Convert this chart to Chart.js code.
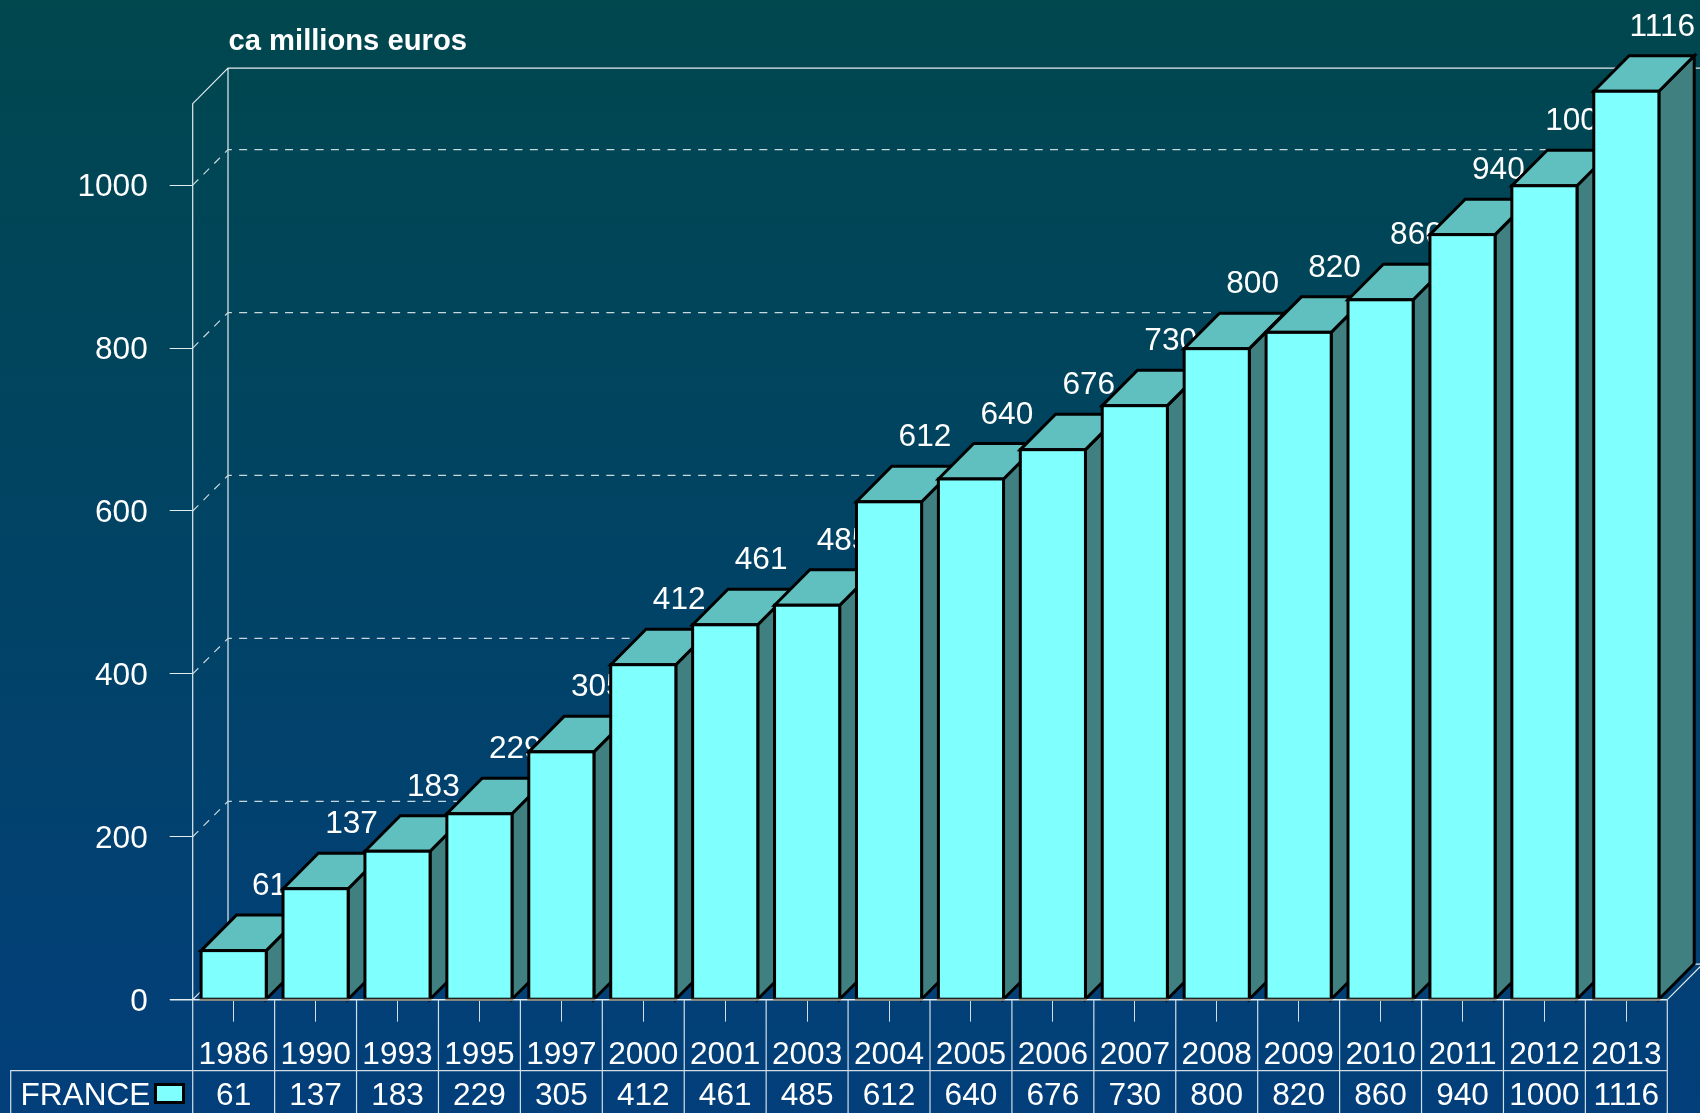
<!DOCTYPE html>
<html>
<head>
<meta charset="utf-8">
<style>html,body{margin:0;padding:0;background:#023f78}canvas{display:block}</style>
<script src="https://cdn.jsdelivr.net/npm/chart.js@4"></script>
</head>
<body>
<canvas id="c" width="1700" height="1113"></canvas>
<script>
const years = ['1986','1990','1993','1995','1997','2000','2001','2003','2004','2005','2006','2007','2008','2009','2010','2011','2012','2013'];
const france = [61,137,183,229,305,412,461,485,612,640,676,730,800,820,860,940,1000,1116];
const seriesName = 'FRANCE';
const unitTitle = 'ca millions euros';
const yTicks = [0,200,400,600,800,1000];

const DX = 35.3, DY = 35.5;
const FAMILY = '"Liberation Sans", Arial, sans-serif';
const FSIZE = 31.6;
const FONT = FSIZE + 'px ' + FAMILY;
const WHITE = '#ffffff', LINE = '#e4ecf0';
const FRONT = '#80FFFF', TOP = '#60BFBF', SIDE = '#408080';
const BW = 3;
const TOP_NUDGE = 0.6;

const threeD = {
  id: 'threeD',
  beforeDraw(chart) {
    const { ctx, width, height } = chart;
    const g = ctx.createLinearGradient(0, 0, 0, height);
    g.addColorStop(0, '#00474E');
    g.addColorStop(1, '#023F7B');
    ctx.save();
    ctx.fillStyle = g;
    ctx.fillRect(0, 0, width, height);
    ctx.restore();
  },
  beforeDatasetsDraw(chart) {
    const { ctx, chartArea: a, scales: { y } } = chart;
    ctx.save();
    // walls
    ctx.strokeStyle = LINE;
    ctx.lineWidth = 1.2;
    ctx.beginPath();
    ctx.moveTo(a.left, a.bottom); ctx.lineTo(a.left, a.top);
    ctx.lineTo(a.left + DX, a.top - DY); ctx.lineTo(a.right + DX, a.top - DY);
    ctx.moveTo(a.left + DX, a.top - DY); ctx.lineTo(a.left + DX, a.bottom - DY);
    ctx.lineTo(a.right + DX, a.bottom - DY);
    ctx.moveTo(a.left, a.bottom); ctx.lineTo(a.left + DX, a.bottom - DY);
    ctx.moveTo(a.right, a.bottom); ctx.lineTo(a.right + DX, a.bottom - DY);
    ctx.stroke();
    // dashed grid on the walls
    ctx.setLineDash([8, 7.3]);
    ctx.strokeStyle = '#c9d8dc';
    yTicks.slice(1).forEach(v => {
      const py = y.getPixelForValue(v);
      ctx.beginPath();
      ctx.moveTo(a.left, py); ctx.lineTo(a.left + DX, py - DY);
      ctx.lineTo(a.right + 20, py - DY);
      ctx.stroke();
    });
    ctx.setLineDash([]);
    // value labels sit behind the bars
    ctx.fillStyle = WHITE;
    ctx.font = FONT;
    ctx.textAlign = 'center';
    ctx.textBaseline = 'middle';
    const meta = chart.getDatasetMeta(0);
    meta.data.forEach((bar, i) => {
      ctx.fillText(String(france[i]), bar.x + DX + 0.6, bar.y - 63.5);
    });
    // depth faces
    ctx.strokeStyle = '#000';
    ctx.lineWidth = BW;
    ctx.lineJoin = 'miter';
    meta.data.forEach(bar => {
      const hw = bar.width / 2;
      const l = bar.x - hw, r = bar.x + hw, t = bar.y + TOP_NUDGE, b = bar.base;
      ctx.fillStyle = SIDE;
      ctx.beginPath();
      ctx.moveTo(r, t); ctx.lineTo(r + DX, t - DY); ctx.lineTo(r + DX, b - DY); ctx.lineTo(r, b);
      ctx.closePath(); ctx.fill(); ctx.stroke();
      ctx.fillStyle = TOP;
      ctx.beginPath();
      ctx.moveTo(l, t); ctx.lineTo(l + DX, t - DY); ctx.lineTo(r + DX, t - DY); ctx.lineTo(r, t);
      ctx.closePath(); ctx.fill(); ctx.stroke();
    });
    ctx.restore();
  },
  afterDatasetsDraw(chart) {
    const { ctx, chartArea: a, scales: { x } } = chart;
    const meta = chart.getDatasetMeta(0);
    ctx.save();
    // outline of the front faces, centred on their edges
    ctx.strokeStyle = '#000';
    ctx.lineWidth = BW;
    meta.data.forEach(bar => {
      const t = bar.y + TOP_NUDGE;
      ctx.strokeRect(bar.x - bar.width / 2, t, bar.width, bar.base - t);
    });
    // floor line over the bar bases
    ctx.strokeStyle = LINE;
    ctx.lineWidth = 1.5;
    ctx.beginPath();
    ctx.moveTo(170, a.bottom); ctx.lineTo(a.right, a.bottom);
    ctx.stroke();
    ctx.strokeStyle = '#8a8a80';
    ctx.lineWidth = 2;
    meta.data.forEach(bar => {
      ctx.beginPath();
      ctx.moveTo(bar.x - bar.width / 2 - 1.5, a.bottom); ctx.lineTo(bar.x + bar.width / 2 + 1.5, a.bottom);
      ctx.stroke();
    });
    // data table
    const step = x.getPixelForValue(1) - x.getPixelForValue(0);
    const rowY = 1070.7, tableLeft = 10.7, H = chart.height;
    ctx.strokeStyle = '#d3dde6';
    ctx.lineWidth = 1.2;
    ctx.beginPath();
    ctx.moveTo(tableLeft, H); ctx.lineTo(tableLeft, rowY); ctx.lineTo(a.right, rowY);
    years.forEach((_, i) => {
      const bx = x.getPixelForValue(i) - step / 2;
      ctx.moveTo(bx, a.bottom); ctx.lineTo(bx, H);
    });
    ctx.moveTo(a.right, a.bottom); ctx.lineTo(a.right, H);
    ctx.stroke();
    ctx.fillStyle = WHITE;
    ctx.font = FONT;
    ctx.textAlign = 'center';
    ctx.textBaseline = 'alphabetic';
    france.forEach((v, i) => ctx.fillText(String(v), x.getPixelForValue(i), 1104.5));
    ctx.textAlign = 'left';
    ctx.fillText(seriesName, 20.5, 1104.5);
    // legend swatch
    ctx.fillStyle = FRONT;
    ctx.strokeStyle = '#000';
    ctx.lineWidth = 3;
    ctx.fillRect(155.5, 1084.5, 28, 18);
    ctx.strokeRect(155.5, 1084.5, 28, 18);
    // unit title
    ctx.fillStyle = WHITE;
    ctx.font = 'bold 29.2px ' + FAMILY;
    ctx.fillText(unitTitle, 228.5, 50);
    ctx.restore();
  }
};

new Chart(document.getElementById('c'), {
  type: 'bar',
  data: {
    labels: years,
    datasets: [{
      label: seriesName,
      data: france,
      backgroundColor: FRONT,
      borderWidth: 0,
      clip: false,
      barPercentage: 0.795,
      categoryPercentage: 1
    }]
  },
  options: {
    responsive: false,
    animation: false,
    layout: { autoPadding: false, padding: { top: 103.7, right: 32.7, left: 0, bottom: 0 } },
    plugins: { legend: { display: false }, tooltip: { enabled: false }, title: { display: false } },
    scales: {
      x: {
        offset: true,
        afterFit(s) { s.height = 113.3; },
        border: { display: false },
        grid: { offset: false, drawOnChartArea: false, drawTicks: true, tickLength: 22, color: '#d3dde6', lineWidth: 1 },
        ticks: {
          color: WHITE, maxRotation: 0, minRotation: 0, autoSkip: false, padding: 14.8,
          font: { family: FAMILY, size: FSIZE }
        }
      },
      y: {
        min: 0, max: 1100,
        afterFit(s) { s.width = 192.7; },
        afterBuildTicks(s) { s.ticks = yTicks.map(v => ({ value: v })); },
        border: { display: false },
        grid: { drawOnChartArea: false, drawTicks: true, tickLength: 23, color: LINE, lineWidth: 1 },
        ticks: {
          color: WHITE, padding: 22,
          // an empty first line with a 5px line height lowers the label by 2.5px
          callback: v => ['', String(v)],
          font: { family: FAMILY, size: FSIZE, lineHeight: '5px' }
        }
      }
    }
  },
  plugins: [threeD]
});
</script>
</body>
</html>
